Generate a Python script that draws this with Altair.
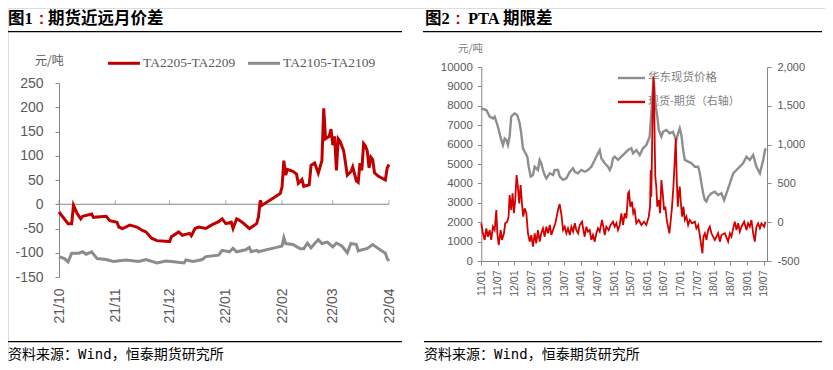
import altair as alt
import pandas as pd

# ---------------- Panel 1: 期货近远月价差 ----------------
p1_red_dates = [
    "2021-10-01", "2021-10-06", "2021-10-08", "2021-10-09", "2021-10-11", "2021-10-13",
    "2021-10-14", "2021-10-19", "2021-10-20", "2021-10-27", "2021-10-29", "2021-11-02",
    "2021-11-03", "2021-11-05", "2021-11-09", "2021-11-13", "2021-11-16", "2021-11-18",
    "2021-11-21", "2021-11-24", "2021-12-01", "2021-12-02", "2021-12-06", "2021-12-08",
    "2021-12-12", "2021-12-13", "2021-12-15", "2021-12-17", "2021-12-21", "2021-12-24",
    "2021-12-28", "2021-12-30", "2022-01-01", "2022-01-04", "2022-01-05", "2022-01-07",
    "2022-01-08", "2022-01-10", "2022-01-14", "2022-01-18", "2022-01-19", "2022-01-20",
    "2022-01-21", "2022-01-31", "2022-02-01", "2022-02-02", "2022-02-03", "2022-02-04",
    "2022-02-07", "2022-02-09", "2022-02-10", "2022-02-12", "2022-02-13", "2022-02-16",
    "2022-02-17", "2022-02-19", "2022-02-21", "2022-02-23", "2022-02-24", "2022-02-25",
    "2022-02-27", "2022-02-28", "2022-03-01", "2022-03-02", "2022-03-03", "2022-03-04",
    "2022-03-05", "2022-03-07", "2022-03-09", "2022-03-11", "2022-03-12", "2022-03-14",
    "2022-03-15", "2022-03-16", "2022-03-17", "2022-03-18", "2022-03-19", "2022-03-20",
    "2022-03-21", "2022-03-22", "2022-03-23", "2022-03-24", "2022-03-26", "2022-03-30",
    "2022-03-31", "2022-04-01",
]
p1_red_vals = [
    -16, -40, -40, -2, -19, -30,
    -25, -20, -27, -25, -34, -37,
    -47, -50, -43, -47, -54, -57,
    -70, -75, -77, -67, -57, -64,
    -60, -65, -50, -47, -50, -43,
    -36, -30, -40, -37, -50, -30,
    -32, -37, -50, -40, -26, 8,
    -2, 22, 35, 90, 60, 72,
    68, 62, 43, 51, 37, 40,
    80, 85, 64, 90, 198, 135,
    140, 155, 122, 140, 70, 135,
    130, 110, 60, 67, 77, 48,
    45, 85, 70, 125, 120, 110,
    75, 97, 92, 65, 58, 50,
    75, 82,
]

p1_gray_dates = [
    "2021-10-01", "2021-10-04", "2021-10-06", "2021-10-08", "2021-10-12", "2021-10-14",
    "2021-10-16", "2021-10-19", "2021-10-22", "2021-10-27", "2021-10-31", "2021-11-07",
    "2021-11-14", "2021-11-18", "2021-11-24", "2021-11-29", "2021-12-02", "2021-12-09",
    "2021-12-10", "2021-12-14", "2021-12-19", "2021-12-21", "2021-12-28", "2021-12-30",
    "2022-01-03", "2022-01-05", "2022-01-07", "2022-01-12", "2022-01-14", "2022-01-15",
    "2022-01-18", "2022-01-19", "2022-01-23", "2022-01-29", "2022-02-01", "2022-02-02",
    "2022-02-03", "2022-02-07", "2022-02-11", "2022-02-13", "2022-02-15", "2022-02-17",
    "2022-02-19", "2022-02-21", "2022-02-23", "2022-02-26", "2022-03-01", "2022-03-03",
    "2022-03-06", "2022-03-09", "2022-03-11", "2022-03-14", "2022-03-15", "2022-03-18",
    "2022-03-20", "2022-03-23", "2022-03-26", "2022-03-30", "2022-03-31", "2022-04-01",
]
p1_gray_vals = [
    -108, -112, -119, -101, -101, -98,
    -103, -98, -112, -114, -118, -115,
    -118, -114, -121, -117, -118, -121,
    -115, -118, -114, -108, -105, -95,
    -98, -91, -98, -94, -89, -98,
    -95, -98, -94, -89, -86, -69,
    -81, -83, -92, -92, -80, -90,
    -81, -73, -81, -78, -88, -80,
    -86, -100, -81, -83, -96, -93,
    -91, -83, -91, -101, -112, -117,
]

p1_month_ticks = ["2021-10-01", "2021-11-01", "2021-12-01", "2022-01-01",
                  "2022-02-01", "2022-03-01", "2022-04-01"]
p1_y_ticks = [-150, -100, -50, 0, 50, 100, 150, 200, 250]

# ---------------- Panel 2: PTA 期限差 ----------------
p2_spot_dates = [
    "2011-01-01", "2011-02-25", "2011-04-03", "2011-05-09", "2011-05-28", "2011-06-15",
    "2011-07-03", "2011-08-08", "2011-08-27", "2011-09-15", "2011-10-03", "2011-10-21",
    "2011-11-08", "2011-11-26", "2011-12-14", "2012-01-03", "2012-01-31", "2012-02-27",
    "2012-03-15", "2012-04-03", "2012-04-22", "2012-05-21", "2012-06-05", "2012-06-27",
    "2012-07-22", "2012-08-10", "2012-09-15", "2012-10-04", "2012-10-21", "2012-11-09",
    "2012-11-28", "2012-12-16", "2013-01-23", "2013-02-28", "2013-03-18", "2013-04-23",
    "2013-05-12", "2013-06-18", "2013-07-24", "2013-08-31", "2013-10-06", "2013-10-25",
    "2013-11-30", "2014-01-05", "2014-02-11", "2014-03-19", "2014-04-25", "2014-06-01",
    "2014-07-07", "2014-07-26", "2014-08-13", "2014-09-19", "2014-10-25", "2014-11-13",
    "2014-12-01", "2014-12-19", "2015-01-07", "2015-02-12", "2015-03-21", "2015-04-27",
    "2015-06-03", "2015-07-09", "2015-07-27", "2015-09-02", "2015-10-09", "2015-11-14",
    "2015-12-20", "2016-01-26", "2016-02-13", "2016-03-03", "2016-03-12", "2016-03-28",
    "2016-04-19", "2016-05-05", "2016-06-03", "2016-06-21", "2016-07-27", "2016-09-03",
    "2016-10-09", "2016-10-28", "2016-11-14", "2016-12-03", "2016-12-22", "2017-01-09",
    "2017-01-28", "2017-02-16", "2017-03-24", "2017-04-29", "2017-06-06", "2017-07-12",
    "2017-07-30", "2017-08-17", "2017-09-05", "2017-09-24", "2017-10-11", "2017-10-30",
    "2017-12-05", "2018-01-11", "2018-02-17", "2018-03-25", "2018-04-24", "2018-05-19",
    "2018-06-26", "2018-08-01", "2018-09-06", "2018-10-13", "2018-11-18", "2018-12-25",
    "2019-01-31", "2019-03-09", "2019-04-14", "2019-05-22", "2019-06-27", "2019-07-22",
]
p2_spot_vals = [
    7870, 7780, 7440, 7350, 7440, 7180,
    6920, 6240, 5980, 6320, 6240, 5980,
    6410, 7440, 7530, 7610, 7530, 7100,
    6580, 5810, 5630, 5380, 4860, 4350,
    4430, 4860, 4690, 5210, 5040, 4690,
    4430, 4260, 4520, 4430, 4690, 4690,
    4350, 4180, 4260, 4600, 4780, 4600,
    4520, 4690, 4600, 4690, 4860, 5210,
    5550, 5720, 5290, 5040, 4860, 4690,
    4860, 5290, 5380, 5210, 5380, 5550,
    5720, 5810, 5550, 5720, 5460, 5810,
    5980, 6410, 7610, 8980, 9300, 8130,
    7440, 6750, 6410, 6660, 6750, 6580,
    6660, 6410, 6240, 6580, 6840, 6490,
    5720, 5210, 5120, 5040, 4860, 4860,
    4520, 4000, 3490, 3140, 3060, 3310,
    3490, 3570, 3400, 3490, 3140, 3490,
    4000, 4520, 4690, 4860, 5040, 5380,
    5210, 5460, 4860, 4520, 5210, 5810,
]

p2_basis_dates = [
    "2011-01-01", "2011-01-19", "2011-02-07", "2011-02-25", "2011-03-15", "2011-04-03",
    "2011-04-20", "2011-05-09", "2011-05-28", "2011-06-15", "2011-06-26", "2011-07-11",
    "2011-08-02", "2011-08-16", "2011-09-07", "2011-09-21", "2011-10-13", "2011-10-28",
    "2011-11-08", "2011-11-26", "2011-12-11", "2011-12-26", "2012-01-09", "2012-01-24",
    "2012-02-07", "2012-02-22", "2012-03-08", "2012-03-23", "2012-04-06", "2012-04-22",
    "2012-05-10", "2012-05-28", "2012-06-16", "2012-07-04", "2012-07-22", "2012-08-10",
    "2012-08-27", "2012-09-15", "2012-10-04", "2012-10-21", "2012-11-09", "2012-11-28",
    "2012-12-16", "2013-01-04", "2013-01-23", "2013-02-09", "2013-02-28", "2013-03-25",
    "2013-04-09", "2013-04-23", "2013-05-12", "2013-05-31", "2013-06-18", "2013-07-06",
    "2013-07-24", "2013-08-11", "2013-08-31", "2013-09-17", "2013-10-06", "2013-10-25",
    "2013-11-10", "2013-11-30", "2013-12-18", "2014-01-13", "2014-01-27", "2014-02-11",
    "2014-03-01", "2014-03-19", "2014-04-07", "2014-04-25", "2014-05-13", "2014-06-01",
    "2014-06-19", "2014-07-07", "2014-07-26", "2014-08-20", "2014-09-04", "2014-09-19",
    "2014-10-06", "2014-11-01", "2014-11-23", "2014-12-19", "2015-01-07", "2015-01-25",
    "2015-02-12", "2015-03-03", "2015-03-21", "2015-04-08", "2015-04-27", "2015-05-15",
    "2015-06-03", "2015-06-13", "2015-06-27", "2015-07-16", "2015-07-30", "2015-08-14",
    "2015-09-02", "2015-09-28", "2015-10-27", "2015-11-25", "2015-12-20", "2016-01-16",
    "2016-01-30", "2016-02-07", "2016-02-13", "2016-02-25", "2016-03-07", "2016-03-14",
    "2016-03-22", "2016-03-28", "2016-04-08", "2016-04-19", "2016-05-05", "2016-05-20",
    "2016-06-03", "2016-06-18", "2016-07-02", "2016-07-16", "2016-08-01", "2016-08-15",
    "2016-08-30", "2016-09-14", "2016-09-28", "2016-10-13", "2016-10-28", "2016-11-08",
    "2016-11-19", "2016-11-30", "2016-12-11", "2016-12-22", "2017-01-03", "2017-01-17",
    "2017-01-31", "2017-02-16", "2017-03-05", "2017-03-24", "2017-04-11", "2017-05-06",
    "2017-06-06", "2017-06-23", "2017-07-12", "2017-07-30", "2017-08-17", "2017-08-28",
    "2017-09-08", "2017-09-24", "2017-10-11", "2017-10-30", "2017-11-17", "2017-12-05",
    "2018-01-11", "2018-02-17", "2018-03-08", "2018-03-25", "2018-05-01", "2018-06-07",
    "2018-06-26", "2018-07-13", "2018-08-01", "2018-08-19", "2018-09-06", "2018-09-25",
    "2018-10-13", "2018-10-31", "2018-11-30", "2018-12-25", "2019-01-12", "2019-01-31",
    "2019-02-18", "2019-03-09", "2019-03-27", "2019-04-14", "2019-05-03", "2019-05-22",
    "2019-06-08", "2019-07-08", "2019-07-22",
]
p2_basis_vals = [
    -14, -143, -229, -79, -187, -101,
    -229, -58, -101, 157, -143, -294,
    -101, -229, -143, -14, 7, 71,
    350, 157, 372, 115, 286, 608,
    458, 243, 480, 243, 71, 179,
    115, -143, -251, -165, -316, -143,
    -272, -101, -251, -143, -79, -187,
    -58, -143, -36, -165, -101, -14,
    71, 157, 234, 93, -101, -58,
    -143, -79, -165, -58, -122, -14,
    -101, -143, -36, 7, -101, -187,
    -58, -122, -101, -229, -165, -251,
    -143, -79, -122, 28, -58, -165,
    -58, -101, -36, 7, -58, -14,
    -101, -36, 115, -36, 115, 50,
    372, 393, 200, 264, 115, 157,
    -14, 28, -36, 7, -36, 71,
    200, 673, 329, 1231, 1880, 1747,
    973, 586, 458, 200, 286, 115,
    544, 372, 157, 200, 28, -58,
    -143, 28, 200, 458, 802, 1081,
    544, 200, 372, 458, 243, 71,
    200, 28, 71, -36, 28, -14,
    7, -79, -36, -165, -316, -401,
    -187, -143, -229, -101, -58, -143,
    -229, -143, -251, -165, -143, -251,
    -143, -187, -79, 7, -101, -14,
    -122, -58, 7, -101, -14, -58,
    28, -143, -251, -58, -14, -79,
    -14, -58, 7,
]

p2_half_year_ticks = [
    "2011-01-01", "2011-07-01", "2012-01-01", "2012-07-01", "2013-01-01", "2013-07-01",
    "2014-01-01", "2014-07-01", "2015-01-01", "2015-07-01", "2016-01-01", "2016-07-01",
    "2017-01-01", "2017-07-01", "2018-01-01", "2018-07-01", "2019-01-01", "2019-07-01",
]
p2_left_ticks = [0, 1000, 2000, 3000, 4000, 5000, 6000, 7000, 8000, 9000, 10000]
p2_right_ticks = [-500, 0, 500, 1000, 1500, 2000]

# ---------------- helpers ----------------
W, H = 817, 354
SANS = "Liberation Sans"
CJK = "Noto Sans CJK SC"
SERIF_CJK = "Liberation Serif, Noto Sans CJK SC"
GRAY_TXT = "#595959"
AX = "#868686"


def dt(s):
    y, m, d = (int(v) for v in s.split("-"))
    return alt.DateTime(year=y, month=m, date=d, utc=True)


one = pd.DataFrame({"k": [0]})


def label(txt, x, y, size, color, font, weight="normal", align="left", baseline="middle"):
    return alt.Chart(one).mark_text(
        text=txt, align=align, baseline=baseline, fontSize=size,
        color=color, font=font, fontWeight=weight,
    ).encode(x=alt.value(x), y=alt.value(y))


def hline(x1, x2, y, color, width):
    return alt.Chart(one).mark_rule(color=color, strokeWidth=width).encode(
        x=alt.value(x1), x2=alt.value(x2), y=alt.value(y))


# ---------------- scales ----------------
p1x = alt.Scale(type="utc", domain=[dt("2021-10-01"), dt("2022-04-01")], range=[51, 381], nice=False)
p1y = alt.Scale(domain=[-150, 250], range=[269, 75], nice=False, zero=False)
p2x = alt.Scale(type="utc", domain=[dt("2011-01-01"), dt("2019-08-08")], range=[473.3, 759], nice=False)
p2yl = alt.Scale(domain=[0, 10000], range=[253, 59], nice=False, zero=False)
p2yr = alt.Scale(domain=[-500, 2000], range=[253, 59], nice=False, zero=False)

# ---------------- panel 1 layers ----------------
df1r = pd.DataFrame({"date": p1_red_dates, "v": p1_red_vals})
df1g = pd.DataFrame({"date": p1_gray_dates, "v": p1_gray_vals})
df1t = pd.DataFrame({"date": p1_month_ticks, "v": [0] * len(p1_month_ticks)})
df1z = pd.DataFrame({"d1": [p1_month_ticks[0]], "d2": [p1_month_ticks[-1]], "v": [0]})

p1_zero = alt.Chart(df1z).mark_rule(color=AX, strokeWidth=1).encode(
    x=alt.X("d1:T", scale=p1x, axis=None),
    x2="d2:T",
    y=alt.Y("v:Q", scale=p1y, axis=None),
)
p1_tick = alt.Chart(df1t).mark_tick(color=AX, size=4, thickness=1, orient="vertical", yOffset=-2).encode(
    x=alt.X("date:T", scale=p1x, axis=None),
    y=alt.Y("v:Q", scale=p1y, axis=None),
)
p1_gray = alt.Chart(df1g).mark_line(color="#8C8C8C", strokeWidth=3).encode(
    x=alt.X("date:T", scale=p1x, axis=alt.Axis(
        orient="bottom", offset=-85, domain=False, ticks=False, grid=False, title=None,
        values=[dt(s) for s in p1_month_ticks], labelAngle=270, labelPadding=11,
        labelExpr="utcFormat(datum.value, '%y/%m')", labelFont=SANS, labelFontSize=14,
        labelColor=GRAY_TXT, labelOverlap=False, labelFlush=False, labelBound=False)),
    y=alt.Y("v:Q", scale=p1y, axis=alt.Axis(
        orient="left", offset=-51, values=p1_y_ticks, grid=False, title=None,
        tickSize=4, tickColor=AX, domainColor=AX, labelPadding=12,
        labelExpr="'' + datum.value", labelFont=SANS, labelFontSize=14,
        labelColor=GRAY_TXT)),
)
p1_red = alt.Chart(df1r).mark_line(color="#C00000", strokeWidth=3).encode(
    x=alt.X("date:T", scale=p1x, axis=None),
    y=alt.Y("v:Q", scale=p1y, axis=None),
)

# ---------------- panel 2 layers ----------------
df2s = pd.DataFrame({"date": p2_spot_dates, "v": p2_spot_vals})
df2b = pd.DataFrame({"date": p2_basis_dates, "v": p2_basis_vals})

p2_spot = alt.Chart(df2s).mark_line(color="#8E8E8E", strokeWidth=2.4).encode(
    x=alt.X("date:T", scale=p2x, axis=alt.Axis(
        orient="bottom", offset=-101, grid=False, title=None,
        values=[dt(s) for s in p2_half_year_ticks], labelAngle=270, labelPadding=5,
        tickSize=4, tickColor=AX, domainColor=AX,
        labelExpr="utcFormat(datum.value, '%y/%m')", labelFont=SANS, labelFontSize=10.5,
        labelColor=GRAY_TXT, labelOverlap=False, labelFlush=False, labelBound=False)),
    y=alt.Y("v:Q", scale=p2yl, axis=alt.Axis(
        orient="left", offset=-473.3, values=p2_left_ticks, grid=False, title=None,
        tickSize=4, tickColor=AX, domainColor=AX, labelPadding=5,
        labelExpr="'' + datum.value", labelFont=SANS, labelFontSize=11.5,
        labelColor=GRAY_TXT)),
)
p2_basis = alt.Chart(df2b).mark_line(color="#D40000", strokeWidth=1.8).encode(
    x=alt.X("date:T", scale=p2x, axis=None),
    y=alt.Y("v:Q", scale=p2yr, axis=alt.Axis(
        orient="right", offset=-58, values=p2_right_ticks, grid=False, title=None,
        tickSize=4, tickColor=AX, domainColor=AX, labelPadding=6,
        labelExpr="replace(format(datum.value, ','), '\u2212', '-')",
        labelFont=SANS, labelFontSize=11, labelColor=GRAY_TXT)),
)

# ---------------- decorations (titles, legends, footers) ----------------
TB = "top"
TY = 3
deco_under = [
    # panel 1 title
    label("图1", 0, TY, 16.5, "#000000", SERIF_CJK, "bold", baseline=TB),
    label(":", 33.5, TY, 16.5, "#C00000", "Liberation Sans", "bold", "center", baseline=TB),
    label("期货近远月价差", 40, TY, 16.5, "#000000", SERIF_CJK, "bold", baseline=TB),
    hline(0, 394, 23.7, "#000000", 1.3),
    # panel 1 unit + legend
    label("元/吨", 27, 52.7, 12, GRAY_TXT, CJK),
    hline(100, 132, 55.3, "#C00000", 3),
    label("TA2205-TA2209", 135, 55.3, 13.5, GRAY_TXT, "Liberation Serif"),
    hline(240, 272, 55.3, "#8C8C8C", 3),
    label("TA2105-TA2109", 275, 55.3, 13.5, GRAY_TXT, "Liberation Serif"),
    # panel 1 footer
    hline(0, 394, 333.7, "#000000", 1.3),
    label("资料来源：Wind，恒泰期货研究所", 0, 347, 14, "#000000", "DejaVu Sans Mono, " + CJK),
    # panel 2 title
    label("图2", 417, TY, 16.5, "#000000", SERIF_CJK, "bold", baseline=TB),
    label(":", 450, TY, 16.5, "#C00000", "Liberation Sans", "bold", "center", baseline=TB),
    label("PTA 期限差", 460, TY, 16.5, "#000000", SERIF_CJK, "bold", baseline=TB),
    hline(415, 814, 23.7, "#000000", 1.3),
    # panel 2 unit + legend
    label("元/吨", 450, 41, 10.5, "#808080", CJK),
    hline(610, 637, 70, "#8E8E8E", 2.4),
    label("华东现货价格", 640, 70, 11.5, "#7F7F7F", CJK),
    hline(610, 637, 94, "#D40000", 2.4),
    label("现货-期货（右轴）", 640, 94, 11, "#7F7F7F", CJK),
    # panel 2 footer
    hline(416, 814, 333.7, "#000000", 1.3),
    label("资料来源：Wind，恒泰期货研究所", 416, 347, 14, "#000000", "DejaVu Sans Mono, " + CJK),
]

chart = alt.layer(
    *deco_under,
    p1_zero, p1_tick, p1_gray, p1_red,
    p2_spot, p2_basis,
).resolve_scale(
    x="independent", y="independent"
).resolve_axis(
    x="independent", y="independent"
).properties(
    width=W, height=H, padding=0,
    autosize=alt.AutoSizeParams(type="none"),
).configure_view(stroke=None).configure(background="#ffffff")

chart.save("out.html", embed_options={"renderer": "svg", "actions": False})
